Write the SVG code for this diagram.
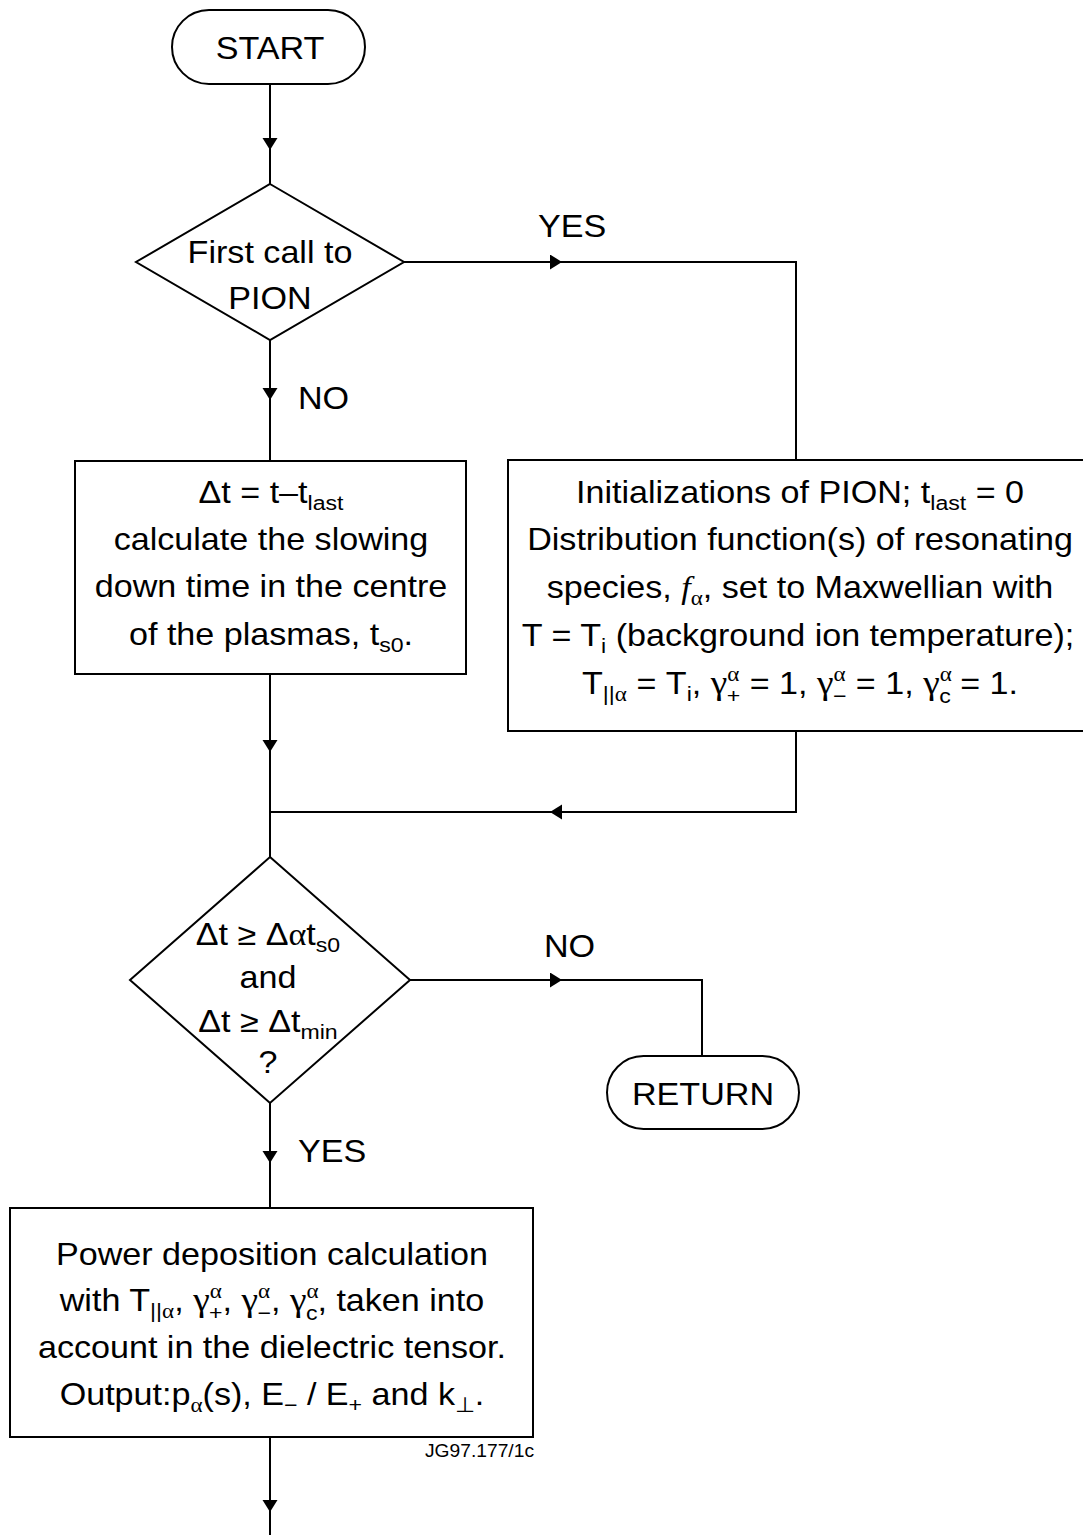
<svg xmlns="http://www.w3.org/2000/svg" width="1083" height="1535" viewBox="0 0 1083 1535">
<style>
.t{font-family:"Liberation Sans",Arial,sans-serif;font-size:31px;fill:#000;text-anchor:middle}
.l{text-anchor:start}
.j{font-size:17.5px;text-anchor:end}
.s{font-size:21px}
.g{font-family:"Liberation Serif","Times New Roman",serif}
.y{font-family:"Liberation Serif","Times New Roman",serif;font-size:34px}
.f{font-family:"Liberation Serif","Times New Roman",serif;font-style:italic}
.n{fill:#fff;stroke:#000;stroke-width:2}
.c{fill:none;stroke:#000;stroke-width:2}
.a{marker-end:url(#arr)}
</style>
<defs>
<marker id="arr" markerUnits="userSpaceOnUse" markerWidth="14" markerHeight="16" refX="12" refY="7.5" orient="auto">
<path d="M0,0 L12,7.5 L0,15 z" fill="#000"/>
</marker>
</defs>
<rect width="1083" height="1535" fill="#fff"/>
<g id="connectors">
<line class="c a" x1="270" y1="84" x2="270" y2="150"/>
<line class="c" x1="270" y1="150" x2="270" y2="184"/>
<line class="c a" x1="404" y1="262" x2="562" y2="262"/>
<polyline class="c" points="562,262 796,262 796,460"/>
<line class="c a" x1="270" y1="340" x2="270" y2="400"/>
<line class="c" x1="270" y1="400" x2="270" y2="461"/>
<line class="c a" x1="270" y1="674" x2="270" y2="752"/>
<line class="c" x1="270" y1="752" x2="270" y2="857"/>
<polyline class="c a" points="796,731 796,812 550,812"/>
<line class="c" x1="550" y1="812" x2="270" y2="812"/>
<line class="c a" x1="410" y1="980" x2="562" y2="980"/>
<polyline class="c" points="562,980 702,980 702,1056"/>
<line class="c a" x1="270" y1="1103" x2="270" y2="1163"/>
<line class="c" x1="270" y1="1163" x2="270" y2="1208"/>
<line class="c a" x1="270" y1="1437" x2="270" y2="1512"/>
<line class="c" x1="270" y1="1512" x2="270" y2="1535"/>
<text class="t l" transform="translate(538 237) scale(1.1 1)">YES</text>
<text class="t l" transform="translate(298 409) scale(1.1 1)">NO</text>
<text class="t l" transform="translate(544 957) scale(1.1 1)">NO</text>
<text class="t l" transform="translate(298 1162) scale(1.1 1)">YES</text>
</g>
<g id="start">
<rect class="n" x="172" y="10" width="193" height="74" rx="37"/>
<text class="t" transform="translate(270 59) scale(1.1 1)">START</text>
</g>
<g id="first-call">
<polygon class="n" points="270,184 404,262 270,340 136,262"/>
<text class="t" transform="translate(270 263) scale(1.1 1)">First call to</text>
<text class="t" transform="translate(270 309) scale(1.1 1)">PION</text>
</g>
<g id="init">
<rect class="n" x="508" y="460" width="576" height="271"/>
<text class="t" transform="translate(800 503) scale(1.1 1)">Initializations of PION; t<tspan class="s" dy="7">last</tspan><tspan dy="-7"> = 0</tspan></text>
<text class="t" transform="translate(800 550) scale(1.1 1)">Distribution function(s) of resonating</text>
<text class="t" transform="translate(800 598) scale(1.1 1)">species, <tspan class="f">f</tspan><tspan class="s g" dy="7">α</tspan><tspan dy="-7">, set to Maxwellian with</tspan></text>
<text class="t" transform="translate(798 646) scale(1.1 1)">T = T<tspan class="s" dy="7">i</tspan><tspan dy="-7"> (background ion temperature);</tspan></text>
<text class="t" transform="translate(800 694) scale(1.1 1)">T<tspan class="s" dy="7">||</tspan><tspan class="s g">α</tspan><tspan dy="-7"> = T</tspan><tspan class="s" dy="7">i</tspan><tspan dy="-7">, </tspan><tspan class="y">γ</tspan><tspan class="s g" dy="-13">α</tspan><tspan class="s" dx="-11.5" dy="22">+</tspan><tspan dy="-9"> = 1, </tspan><tspan class="y">γ</tspan><tspan class="s g" dy="-13">α</tspan><tspan class="s" dx="-11.5" dy="22">−</tspan><tspan dy="-9"> = 1, </tspan><tspan class="y">γ</tspan><tspan class="s g" dy="-13">α</tspan><tspan class="s" dx="-11.5" dy="22">c</tspan><tspan dy="-9"> = 1.</tspan></text>
</g>
<g id="slowing">
<rect class="n" x="75" y="461" width="391" height="213"/>
<text class="t" transform="translate(271 503) scale(1.1 1)">Δt = t–t<tspan class="s" dy="7">last</tspan></text>
<text class="t" transform="translate(271 550) scale(1.1 1)">calculate the slowing</text>
<text class="t" transform="translate(271 597) scale(1.1 1)">down time in the centre</text>
<text class="t" transform="translate(271 645) scale(1.1 1)">of the plasmas, t<tspan class="s" dy="7">s0</tspan><tspan dy="-7">.</tspan></text>
</g>
<g id="check">
<polygon class="n" points="270,857 410,980 270,1103 130,980"/>
<text class="t" transform="translate(268 945) scale(1.1 1)">Δt ≥ Δ<tspan class="g">α</tspan>t<tspan class="s" dy="7">s0</tspan></text>
<text class="t" transform="translate(268 988) scale(1.1 1)">and</text>
<text class="t" transform="translate(268 1032) scale(1.1 1)">Δt ≥ Δt<tspan class="s" dy="7">min</tspan></text>
<text class="t" transform="translate(268 1073) scale(1.1 1)">?</text>
</g>
<g id="return">
<rect class="n" x="607" y="1056" width="192" height="73" rx="36.5"/>
<text class="t" transform="translate(703 1105) scale(1.1 1)">RETURN</text>
</g>
<g id="power">
<rect class="n" x="10" y="1208" width="523" height="229"/>
<text class="t" transform="translate(272 1265) scale(1.1 1)">Power deposition calculation</text>
<text class="t" transform="translate(272 1311) scale(1.1 1)">with T<tspan class="s" dy="7">||</tspan><tspan class="s g">α</tspan><tspan dy="-7">, </tspan><tspan class="y">γ</tspan><tspan class="s g" dy="-13">α</tspan><tspan class="s" dx="-11.5" dy="22">+</tspan><tspan dy="-9">, </tspan><tspan class="y">γ</tspan><tspan class="s g" dy="-13">α</tspan><tspan class="s" dx="-11.5" dy="22">−</tspan><tspan dy="-9">, </tspan><tspan class="y">γ</tspan><tspan class="s g" dy="-13">α</tspan><tspan class="s" dx="-11.5" dy="22">c</tspan><tspan dy="-9">, taken into</tspan></text>
<text class="t" transform="translate(272 1358) scale(1.1 1)">account in the dielectric tensor.</text>
<text class="t" transform="translate(272 1405) scale(1.1 1)">Output:p<tspan class="s g" dy="7">α</tspan><tspan dy="-7">(s), E</tspan><tspan class="s" dy="7">−</tspan><tspan dy="-7"> / E</tspan><tspan class="s" dy="7">+</tspan><tspan dy="-7"> and k</tspan><tspan class="s" dy="7">⊥</tspan><tspan dy="-7">.</tspan></text>
</g>
<g id="ref">
<text class="t j" transform="translate(534 1457) scale(1.1 1)">JG97.177/1c</text>
</g>
</svg>
